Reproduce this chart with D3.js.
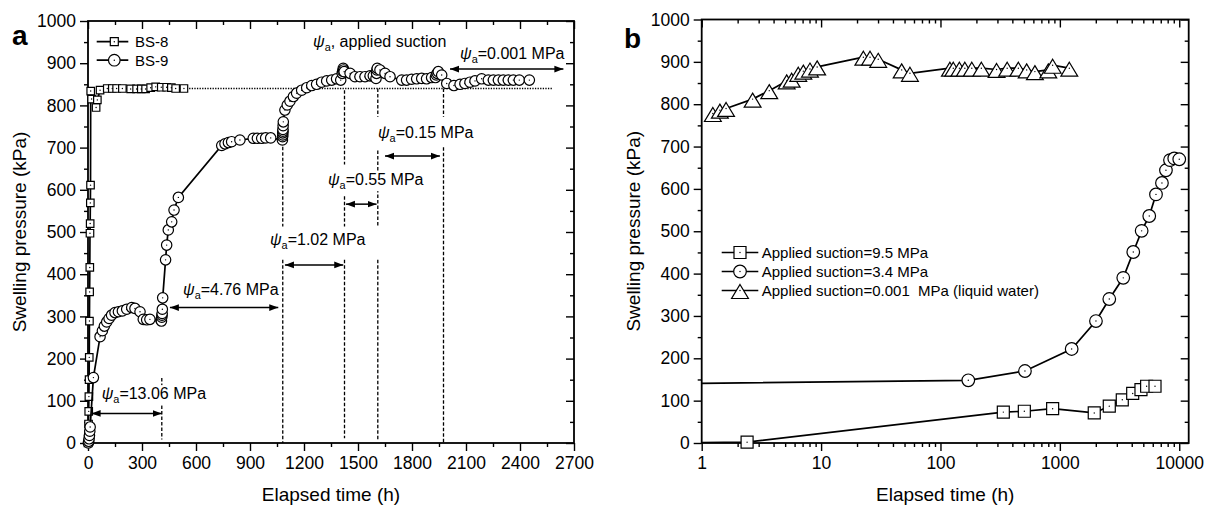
<!DOCTYPE html>
<html>
<head>
<meta charset="utf-8">
<script src="https://cdn.jsdelivr.net/npm/d3@7"></script>
<style>
  body { margin: 0; background: #fff; }
  svg text { font-family: "Liberation Sans", Arial, sans-serif; fill: #000; }
</style>
</head>
<body>
<script>
// ---- panel a data (elapsed time h, swelling pressure kPa) ----
const bs8Time = [0, 1, 2, 3, 4, 5, 6, 7, 8, 9, 10, 11, 12, 13, 14, 15, 20, 45, 52, 67,
  107, 135, 159, 191, 237, 270, 296, 320, 348, 376, 407, 437, 463, 487, 533];
const bs8Pressure = [0, 8, 20, 45, 75, 110, 150, 203, 289, 358, 416, 497, 520, 569, 611, 834, 815, 795, 813, 836,
  840, 840, 840, 840, 839, 839, 839, 839, 842, 844, 843, 843, 842, 840, 840];

const bs9Time = [2, 4, 6, 8, 10, 12, 30, 67, 80, 91, 104, 117, 131, 150, 169, 191, 215, 243, 261, 289, 307, 326, 344,
  405, 408, 410, 411, 412, 413, 415, 431, 437, 446, 465, 478, 502,
  743, 761, 780, 798, 844, 918, 941, 965, 987, 1015,
  1080, 1081, 1082, 1082, 1083, 1083, 1084, 1085,
  1094, 1107, 1122, 1141, 1159, 1187, 1215, 1243, 1270, 1298, 1326, 1354, 1381, 1404,
  1412, 1415, 1418, 1420, 1423, 1456, 1483, 1511, 1539, 1567, 1585,
  1600, 1603, 1605, 1607, 1622, 1650, 1678, 1743, 1770, 1798, 1826, 1854, 1881, 1909,
  1930, 1935, 1940, 1946, 1965, 1993, 2033, 2067, 2094, 2122, 2150, 2187, 2224, 2252, 2280, 2307, 2335, 2363, 2396, 2452];
const bs9Pressure = [0, 4, 10, 18, 28, 38, 155, 252, 266, 277, 287, 295, 303, 309, 311, 313, 317, 321, 319, 311, 293, 292, 293,
  291, 289, 298, 303, 307, 317, 344, 434, 469, 505, 524, 552, 582,
  705, 709, 712, 714, 718, 722, 722, 722, 723, 723,
  718, 726, 730, 735, 739, 743, 752, 761,
  789, 801, 810, 821, 829, 836, 842, 847, 850, 855, 858, 860, 863, 860,
  876, 881, 888, 884, 880, 876, 868, 868, 868, 870, 870,
  864, 876, 884, 888, 884, 876, 868, 860, 860, 862, 863, 864, 863, 866,
  866, 872, 876, 880, 872, 852, 847, 850, 852, 855, 858, 863, 860, 860, 860, 860, 860, 860, 860, 860];

// BS-8 equilibrium level (dotted reference line)
const bs8Level = 840;
const bs8LevelEnd = 2583;

// applied-suction stages: vertical dashed segments [time, from, to]
const stageTime = [410, 1082, 1082, 1425, 1425, 1425, 1610, 1610, 1610, 1975, 1975];
const stageFrom = [154, 702, 434, 836, 585, 434, 840, 693, 434, 840, 701];
const stageTo   = [8, 513, 0, 660, 513, 11, 773, 513, 7, 773, 0];

// double arrows and their labels
const suctionLabels = ['=13.06 MPa', '=4.76 MPa', '=1.02 MPa', '=0.55 MPa', '=0.15 MPa', '=0.001 MPa'];
const labelTime     = [76, 528, 1011, 1333, 1611, 2067];
const labelPressure = [104, 351, 469, 611, 723, 911];
const arrowFrom     = [20, 455, 1094, 1433, 1650, 2011];
const arrowTo       = [410, 1057, 1418, 1603, 1955, 2641];
const arrowPressure = [70, 321, 422, 566, 680, 886];

// ---- panel b data ----
const s95Time = [0.5, 2.4, 336, 504, 870, 1941, 2594, 3333, 4074, 4780, 5330, 6266];
const s95Pressure = [0, 2, 73, 75, 81, 71, 87, 102, 117, 126, 134, 134];

const s34Time = [0.5, 171, 510, 1256, 2006, 2594, 3396, 4120, 4843, 5607, 6385, 7163, 7738, 8363, 9080, 10000];
const s34Pressure = [140, 148, 170, 222, 288, 340, 390, 451, 501, 536, 587, 614, 644, 668, 672, 670];

const s0Time = [1.24, 1.42, 1.6, 2.67, 3.68, 5.15, 5.67, 6.44, 7.1, 8.07, 9.27, 22.6, 25.7, 30.1, 47.3, 55.5,
  120, 128, 144, 160, 183, 220, 295, 362, 449, 527, 618, 800, 870, 1200];
const s0Pressure = [778, 786, 790, 812, 832, 855, 859, 873, 878, 883, 888, 911, 911, 906, 881, 873,
  885, 885, 885, 885, 885, 885, 882, 885, 885, 881, 877, 881, 892, 885];

const legendB = ['Applied suction=9.5 MPa', 'Applied suction=3.4 MPa', 'Applied suction=0.001  MPa (liquid water)'];

// ticks
const aXTicks = [0, 300, 600, 900, 1200, 1500, 1800, 2100, 2400, 2700];
const yTicks = [0, 100, 200, 300, 400, 500, 600, 700, 800, 900, 1000];
const bXTicks = [1, 10, 100, 1000, 10000];

// ---- drawing ----
const svg = d3.select('body').append('svg')
  .attr('width', 1213)
  .attr('height', 505);

const defs = svg.append('defs');
defs.append('marker')
  .attr('id', 'arrow')
  .attr('markerUnits', 'userSpaceOnUse')
  .attr('markerWidth', 12).attr('markerHeight', 10)
  .attr('refX', 9).attr('refY', 4)
  .attr('orient', 'auto-start-reverse')
  .append('path')
  .attr('d', 'M0,0.6 L9,4 L0,7.4 Z')
  .attr('fill', '#000');

const xa = d3.scaleLinear().domain([0, 2700]).range([88, 574]);
const ya = d3.scaleLinear().domain([0, 1000]).range([443, 21]);
const xb = d3.scaleLog().domain([1, 12000]).range([701.7, 1188.7]);
const yb = d3.scaleLinear().domain([0, 1000]).range([443, 19.5]);

const minorY = d3.range(50, 1000, 100);
const intFmt = d3.format('d');

function drawFrame(x, y, xMajor, xMinor, id) {
  const [x0, x1] = x.range();
  const [y0, y1] = y.range();
  const g = svg.append('g');

  // bottom (outward) and top (inward)
  g.append('g').attr('transform', `translate(0,${y0})`)
    .call(d3.axisBottom(x).tickValues(xMajor).tickSize(8).tickSizeOuter(0).tickPadding(6).tickFormat(intFmt));
  g.append('g').attr('transform', `translate(0,${y0})`)
    .call(d3.axisBottom(x).tickValues(xMinor).tickSize(4).tickSizeOuter(0).tickFormat(''));
  g.append('g').attr('transform', `translate(0,${y1})`)
    .call(d3.axisTop(x).tickValues(xMajor).tickSize(-8).tickSizeOuter(0).tickFormat(''));
  g.append('g').attr('transform', `translate(0,${y1})`)
    .call(d3.axisTop(x).tickValues(xMinor).tickSize(-4).tickSizeOuter(0).tickFormat(''));

  // left (outward) and right (inward)
  g.append('g').attr('transform', `translate(${x0},0)`)
    .call(d3.axisLeft(y).tickValues(yTicks).tickSize(8).tickSizeOuter(0).tickPadding(4).tickFormat(intFmt));
  g.append('g').attr('transform', `translate(${x0},0)`)
    .call(d3.axisLeft(y).tickValues(minorY).tickSize(4).tickSizeOuter(0).tickFormat(''));
  g.append('g').attr('transform', `translate(${x1},0)`)
    .call(d3.axisRight(y).tickValues(yTicks).tickSize(-8).tickSizeOuter(0).tickFormat(''));
  g.append('g').attr('transform', `translate(${x1},0)`)
    .call(d3.axisRight(y).tickValues(minorY).tickSize(-4).tickSizeOuter(0).tickFormat(''));

  g.selectAll('.domain').remove();
  g.selectAll('.tick line').attr('stroke', '#000').attr('stroke-width', 1.4);
  g.selectAll('.tick text').attr('font-size', 17.5).attr('fill', '#000')
    .style('font-family', '"Liberation Sans", Arial, sans-serif');

  g.append('rect')
    .attr('x', x0).attr('y', y1)
    .attr('width', x1 - x0).attr('height', y0 - y1)
    .attr('fill', 'none').attr('stroke', '#000').attr('stroke-width', 1.8);

  defs.append('clipPath').attr('id', id)
    .append('rect').attr('x', x0).attr('y', y1).attr('width', x1 - x0).attr('height', y0 - y1);

  // axis titles
  svg.append('text')
    .attr('x', (x0 + x1) / 2).attr('y', 501)
    .attr('text-anchor', 'middle').attr('font-size', 19)
    .text('Elapsed time (h)');
  svg.append('text')
    .attr('transform', `translate(${x0 - 62},${(y0 + y1) / 2}) rotate(-90)`)
    .attr('text-anchor', 'middle').attr('font-size', 19)
    .text('Swelling pressure (kPa)');
}

// symbols
function square(s) { return `M${-s / 2},${-s / 2}h${s}v${s}h${-s}Z`; }
function triangle(w, h) { return `M0,${-h / 2}L${w / 2},${h / 2}L${-w / 2},${h / 2}Z`; }

function drawMarker(g, cx, cy, kind, size) {
  if (kind === 'circle') {
    g.append('circle').attr('cx', cx).attr('cy', cy).attr('r', size)
      .attr('fill', '#fff').attr('stroke', '#000').attr('stroke-width', 1.2);
  } else if (kind === 'square') {
    g.append('path').attr('transform', `translate(${cx},${cy})`).attr('d', square(size))
      .attr('fill', '#fff').attr('stroke', '#000').attr('stroke-width', 1.2);
  } else {
    g.append('path').attr('transform', `translate(${cx},${cy + 1})`).attr('d', triangle(size * 1.2, size))
      .attr('fill', '#fff').attr('stroke', '#000').attr('stroke-width', 1.2);
  }
  g.append('circle').attr('cx', cx).attr('cy', cy).attr('r', 0.7).attr('fill', '#000');
}

function drawSeries(x, y, times, values, kind, size, clipId, minT) {
  const pts = times.map((t, i) => [t, values[i]]);
  const g = svg.append('g').attr('clip-path', `url(#${clipId})`);
  g.append('path')
    .datum(pts)
    .attr('fill', 'none').attr('stroke', '#000').attr('stroke-width', 1.7)
    .attr('d', d3.line().x(d => x(d[0])).y(d => y(d[1])));
  const m = svg.append('g');
  pts.filter(d => d[0] >= minT).forEach(d => drawMarker(m, x(d[0]), y(d[1]), kind, size));
}

// italic psi with subscript a, on a white box so dashed lines break around it
function psiText(x, y, rest, size) {
  const bg = svg.append('rect').attr('fill', '#fff');
  const t = svg.append('text').attr('x', x).attr('y', y).attr('font-size', size);
  t.append('tspan').attr('font-style', 'italic').text('ψ');
  t.append('tspan').attr('font-size', size * 0.68).attr('dy', 4).text('a');
  t.append('tspan').attr('dy', -4).text(rest);
  const b = t.node().getBBox();
  bg.attr('x', b.x - 1).attr('y', b.y).attr('width', b.width + 2).attr('height', b.height);
  return t;
}

// ---------- panel a ----------
drawFrame(xa, ya, aXTicks, d3.range(150, 2700, 300), 'clipA');

// dotted equilibrium line of BS-8
svg.append('line')
  .attr('x1', xa(bs8Time[bs8Time.length - 1])).attr('x2', xa(bs8LevelEnd))
  .attr('y1', ya(bs8Level)).attr('y2', ya(bs8Level))
  .attr('stroke', '#000').attr('stroke-width', 1.3).attr('stroke-dasharray', '1.3,1.3');

// stage boundaries
stageTime.forEach((t, i) => {
  svg.append('line')
    .attr('x1', xa(t)).attr('x2', xa(t))
    .attr('y1', ya(stageFrom[i])).attr('y2', ya(stageTo[i]))
    .attr('stroke', '#000').attr('stroke-width', 1.3).attr('stroke-dasharray', '3.5,2');
});

drawSeries(xa, ya, bs8Time, bs8Pressure, 'square', 7.5, 'clipA', 0);
drawSeries(xa, ya, bs9Time, bs9Pressure, 'circle', 5.2, 'clipA', 0);

// arrows + suction labels
arrowFrom.forEach((t, i) => {
  svg.append('line')
    .attr('x1', xa(t)).attr('x2', xa(arrowTo[i]))
    .attr('y1', ya(arrowPressure[i])).attr('y2', ya(arrowPressure[i]))
    .attr('stroke', '#000').attr('stroke-width', 1.5)
    .attr('marker-start', 'url(#arrow)').attr('marker-end', 'url(#arrow)');
  psiText(xa(labelTime[i]), ya(labelPressure[i]), suctionLabels[i], 16);
});
psiText(xa(1250), ya(938), ', applied suction', 16);

// legend a
const legA = [['BS-8', 'square', 8], ['BS-9', 'circle', 5.8]];
legA.forEach((d, i) => {
  const cy = 41.7 + i * 18.5;
  svg.append('line').attr('x1', 96.7).attr('x2', 128.3).attr('y1', cy).attr('y2', cy)
    .attr('stroke', '#000').attr('stroke-width', 1.7);
  drawMarker(svg, 114.3, cy, d[1], d[2]);
  svg.append('text').attr('x', 135).attr('y', cy + 5.5).attr('font-size', 15).text(d[0]);
});

svg.append('text').attr('x', 12).attr('y', 45).attr('font-size', 28).attr('font-weight', 'bold').text('a');

// ---------- panel b ----------
const bMinor = [];
[1, 10, 100, 1000].forEach(dec => [2, 3, 4, 5, 6, 7, 8, 9].forEach(k => bMinor.push(dec * k)));
drawFrame(xb, yb, bXTicks, bMinor, 'clipB');

drawSeries(xb, yb, s95Time, s95Pressure, 'square', 12, 'clipB', 1);
drawSeries(xb, yb, s34Time, s34Pressure, 'circle', 6.3, 'clipB', 1);
drawSeries(xb, yb, s0Time, s0Pressure, 'triangle', 14, 'clipB', 1);

// legend b
const legKinds = [['square', 12], ['circle', 6.3], ['triangle', 14]];
legendB.forEach((label, i) => {
  const cy = 252.5 + i * 19;
  svg.append('line').attr('x1', 721.7).attr('x2', 758.3).attr('y1', cy).attr('y2', cy)
    .attr('stroke', '#000').attr('stroke-width', 1.7);
  drawMarker(svg, 740, cy, legKinds[i][0], legKinds[i][1]);
  svg.append('text').attr('x', 761.7).attr('y', cy + 5.5).attr('font-size', 15)
    .style('white-space', 'pre').text(label);
});

svg.append('text').attr('x', 624).attr('y', 48).attr('font-size', 28).attr('font-weight', 'bold').text('b');
</script>
</body>
</html>
